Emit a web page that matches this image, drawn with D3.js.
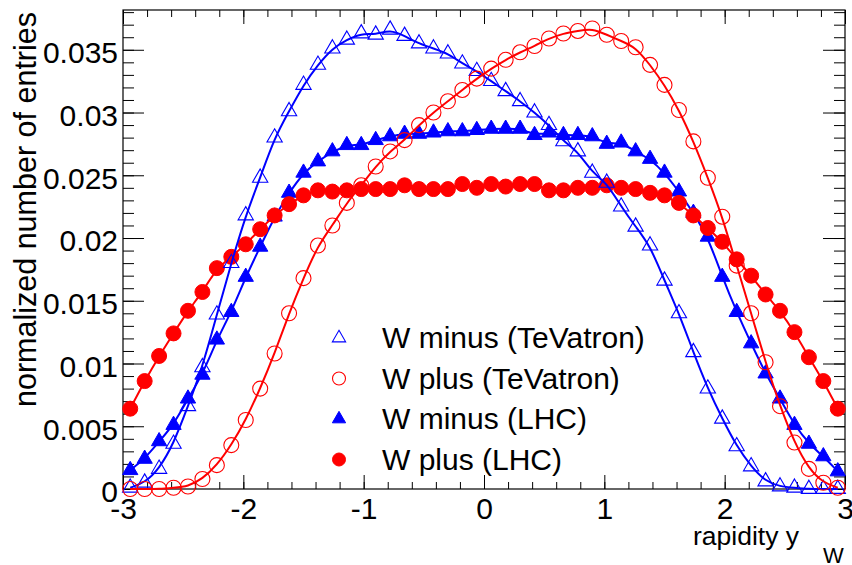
<!DOCTYPE html>
<html>
<head>
<meta charset="utf-8">
<script src="https://cdn.jsdelivr.net/npm/d3@7"></script>
<style>
  body { margin: 0; background: #fff; }
  text { font-family: "Liberation Sans", Arial, sans-serif; fill: #000; }
</style>
</head>
<body>
<svg width="852" height="565"></svg>
<script>
// bin centres of the rapidity histograms
const rapidity = [
  -2.94, -2.82, -2.70, -2.58, -2.46, -2.34, -2.22, -2.10, -1.98, -1.86,
  -1.74, -1.62, -1.50, -1.38, -1.26, -1.14, -1.02, -0.90, -0.78, -0.66,
  -0.54, -0.42, -0.30, -0.18, -0.06, 0.06, 0.18, 0.30, 0.42, 0.54,
  0.66, 0.78, 0.90, 1.02, 1.14, 1.26, 1.38, 1.50, 1.62, 1.74,
  1.86, 1.98, 2.10, 2.22, 2.34, 2.46, 2.58, 2.70, 2.82, 2.94
];

// W minus (TeVatron)
const wMinusTev = [
  0.0001, 0.0005, 0.0016, 0.0036, 0.0066, 0.0097, 0.0139, 0.0180, 0.0218, 0.0248,
  0.0280, 0.0301, 0.0322, 0.0338, 0.0351, 0.0358, 0.0363, 0.0362, 0.0366, 0.0361,
  0.0355, 0.0351, 0.0347, 0.0339, 0.0333, 0.0325, 0.0317, 0.0309, 0.0300, 0.0290,
  0.0277, 0.0269, 0.0252, 0.0244, 0.0225, 0.0209, 0.0194, 0.0166, 0.0140, 0.0109,
  0.0080, 0.0056, 0.0034, 0.0018, 0.0006, 0.0002, 0.0001, 0.0000, 0.0000, 0.0000
];

// W plus (TeVatron)
const wPlusTev = [
  0.0000, 0.0000, 0.0000, 0.0001, 0.0002, 0.0008, 0.0019, 0.0035, 0.0055, 0.0080,
  0.0108, 0.0140, 0.0168, 0.0194, 0.0210, 0.0228, 0.0242, 0.0257, 0.0269, 0.0278,
  0.0290, 0.0300, 0.0309, 0.0318, 0.0327, 0.0335, 0.0342, 0.0348, 0.0353, 0.0359,
  0.0363, 0.0365, 0.0367, 0.0362, 0.0357, 0.0352, 0.0338, 0.0322, 0.0302, 0.0277,
  0.0248, 0.0217, 0.0178, 0.0140, 0.0101, 0.0066, 0.0037, 0.0016, 0.0005, 0.0001
];

// W minus (LHC)
const wMinusLhc = [
  0.0015, 0.0024, 0.0038, 0.0051, 0.0072, 0.0091, 0.0119, 0.0141, 0.0169, 0.0193,
  0.0217, 0.0236, 0.0252, 0.0261, 0.0269, 0.0274, 0.0274, 0.0278, 0.0281, 0.0283,
  0.0283, 0.0284, 0.0285, 0.0285, 0.0286, 0.0287, 0.0287, 0.0287, 0.0282, 0.0284,
  0.0282, 0.0282, 0.0281, 0.0275, 0.0276, 0.0269, 0.0263, 0.0252, 0.0237, 0.0220,
  0.0201, 0.0169, 0.0141, 0.0116, 0.0092, 0.0072, 0.0051, 0.0036, 0.0026, 0.0014
];

// W plus (LHC)
const wPlusLhc = [
  0.0064, 0.0086, 0.0106, 0.0124, 0.0142, 0.0157, 0.0176, 0.0185, 0.0195, 0.0207,
  0.0218, 0.0227, 0.0234, 0.0238, 0.0237, 0.0238, 0.0239, 0.0239, 0.0239, 0.0242,
  0.0239, 0.0239, 0.0239, 0.0243, 0.0240, 0.0243, 0.0241, 0.0243, 0.0243, 0.0238,
  0.0238, 0.0240, 0.0240, 0.0242, 0.0240, 0.0239, 0.0236, 0.0234, 0.0228, 0.0218,
  0.0208, 0.0197, 0.0183, 0.0170, 0.0155, 0.0142, 0.0125, 0.0105, 0.0086, 0.0064
];

const yTickLabels = ["0", "0.005", "0.01", "0.015", "0.02", "0.025", "0.03", "0.035"];
const xTickLabels = ["-3", "-2", "-1", "0", "1", "2", "3"];

const series = [
  { name: "W minus (LHC)", values: wMinusLhc, color: "#0000ff", shape: "triangle", filled: true },
  { name: "W plus (LHC)", values: wPlusLhc, color: "#ff0000", shape: "circle", filled: true },
  { name: "W minus (TeVatron)", values: wMinusTev, color: "#0000ff", shape: "triangle", filled: false },
  { name: "W plus (TeVatron)", values: wPlusTev, color: "#ff0000", shape: "circle", filled: false }
];
const legendOrder = [2, 3, 0, 1];

const svg = d3.select("svg");
const frameL = 123, frameR = 845, frameT = 10, frameB = 489;

const x = d3.scaleLinear().domain([-3, 3]).range([frameL, frameR]);
const y = d3.scaleLinear().domain([0, 0.03817]).range([frameB, frameT]);

// ticks, all drawn inward like ROOT
const yMajor = yTickLabels.map(Number);
const yMinor = d3.range(0, 0.0381, 0.001);
const xMajor = xTickLabels.map(Number);
const xMinor = d3.range(-3, 3.001, 0.2);

function tickLayer(axis, tx, ty) {
  const g = svg.append("g").attr("transform", `translate(${tx},${ty})`).call(axis);
  g.select(".domain").remove();
  g.selectAll("line").attr("stroke", "#000").attr("stroke-width", 1);
  return g;
}

tickLayer(d3.axisLeft(y).tickValues(yMinor).tickSizeInner(-11).tickSizeOuter(0).tickFormat(""), frameL, 0);
tickLayer(d3.axisRight(y).tickValues(yMinor).tickSizeInner(-11).tickSizeOuter(0).tickFormat(""), frameR, 0);
tickLayer(d3.axisRight(y).tickValues(yMajor).tickSizeInner(-22).tickSizeOuter(0).tickFormat(""), frameR, 0);
tickLayer(d3.axisBottom(x).tickValues(xMinor).tickSizeInner(-7).tickSizeOuter(0).tickFormat(""), 0, frameB);
tickLayer(d3.axisTop(x).tickValues(xMinor).tickSizeInner(-7).tickSizeOuter(0).tickFormat(""), 0, frameT);
tickLayer(d3.axisTop(x).tickValues(xMajor).tickSizeInner(-14).tickSizeOuter(0).tickFormat(""), 0, frameT);

const yAxis = tickLayer(d3.axisLeft(y).tickValues(yMajor).tickSizeInner(-21).tickSizeOuter(0)
  .tickPadding(5).tickFormat((d, i) => yTickLabels[i]), frameL, 0);
yAxis.selectAll("text").attr("font-size", 30).attr("dy", "0.43em")
  .style("font-family", "'Liberation Sans', Arial, sans-serif");

const xAxis = tickLayer(d3.axisBottom(x).tickValues(xMajor).tickSizeInner(-14).tickSizeOuter(0)
  .tickPadding(9).tickFormat((d, i) => xTickLabels[i]), 0, frameB);
xAxis.selectAll("text").attr("font-size", 30)
  .style("font-family", "'Liberation Sans', Arial, sans-serif");

// frame
svg.append("rect")
  .attr("x", frameL).attr("y", frameT)
  .attr("width", frameR - frameL).attr("height", frameB - frameT)
  .attr("fill", "none").attr("stroke", "#000").attr("stroke-width", 1.2);

// curves and markers
const line = d3.line()
  .x((d, i) => x(rapidity[i]))
  .y(d => y(d))
  .curve(d3.curveBasis);

function drawMarker(sel, s, r) {
  if (s.shape === "circle") {
    sel.append("circle").attr("r", r)
      .attr("fill", s.filled ? s.color : "none")
      .attr("stroke", s.color).attr("stroke-width", s.filled ? 1 : 1.1);
  } else {
    sel.append("path").attr("d", d3.symbol().type(d3.symbolTriangle).size(r * r * 1.8)())
      .attr("fill", s.filled ? s.color : "none")
      .attr("stroke", s.color).attr("stroke-width", s.filled ? 1 : 1.1)
      .attr("stroke-linejoin", "miter");
  }
}

series.forEach(s => {
  const g = svg.append("g");
  g.selectAll("g.pt")
    .data(s.values)
    .enter().append("g")
    .attr("class", "pt")
    .attr("transform", (d, i) => `translate(${x(rapidity[i])},${y(d)})`)
    .each(function() { drawMarker(d3.select(this), s, 7.5); });
  g.append("path")
    .datum(s.values)
    .attr("d", line)
    .attr("fill", "none")
    .attr("stroke", s.color)
    .attr("stroke-width", 2);
});

// legend
const legend = svg.append("g");
legendOrder.forEach((k, row) => {
  const s = series[k];
  const cy = 338 + row * 40.5;
  const m = legend.append("g").attr("transform", `translate(339,${cy})`);
  drawMarker(m, s, 6.5);
  legend.append("text")
    .attr("x", 382).attr("y", cy + 10)
    .attr("font-size", 30)
    .text(s.name);
});

// axis titles
svg.append("text")
  .attr("transform", "translate(36,12) rotate(-90)")
  .attr("text-anchor", "end")
  .attr("font-size", 30.5)
  .text("normalized number of entries");

svg.append("text")
  .attr("x", 799).attr("y", 545)
  .attr("text-anchor", "end")
  .attr("font-size", 26.5)
  .text("rapidity y");
svg.append("text")
  .attr("x", 823).attr("y", 563)
  .attr("font-size", 22)
  .text("W");
</script>
</body>
</html>
